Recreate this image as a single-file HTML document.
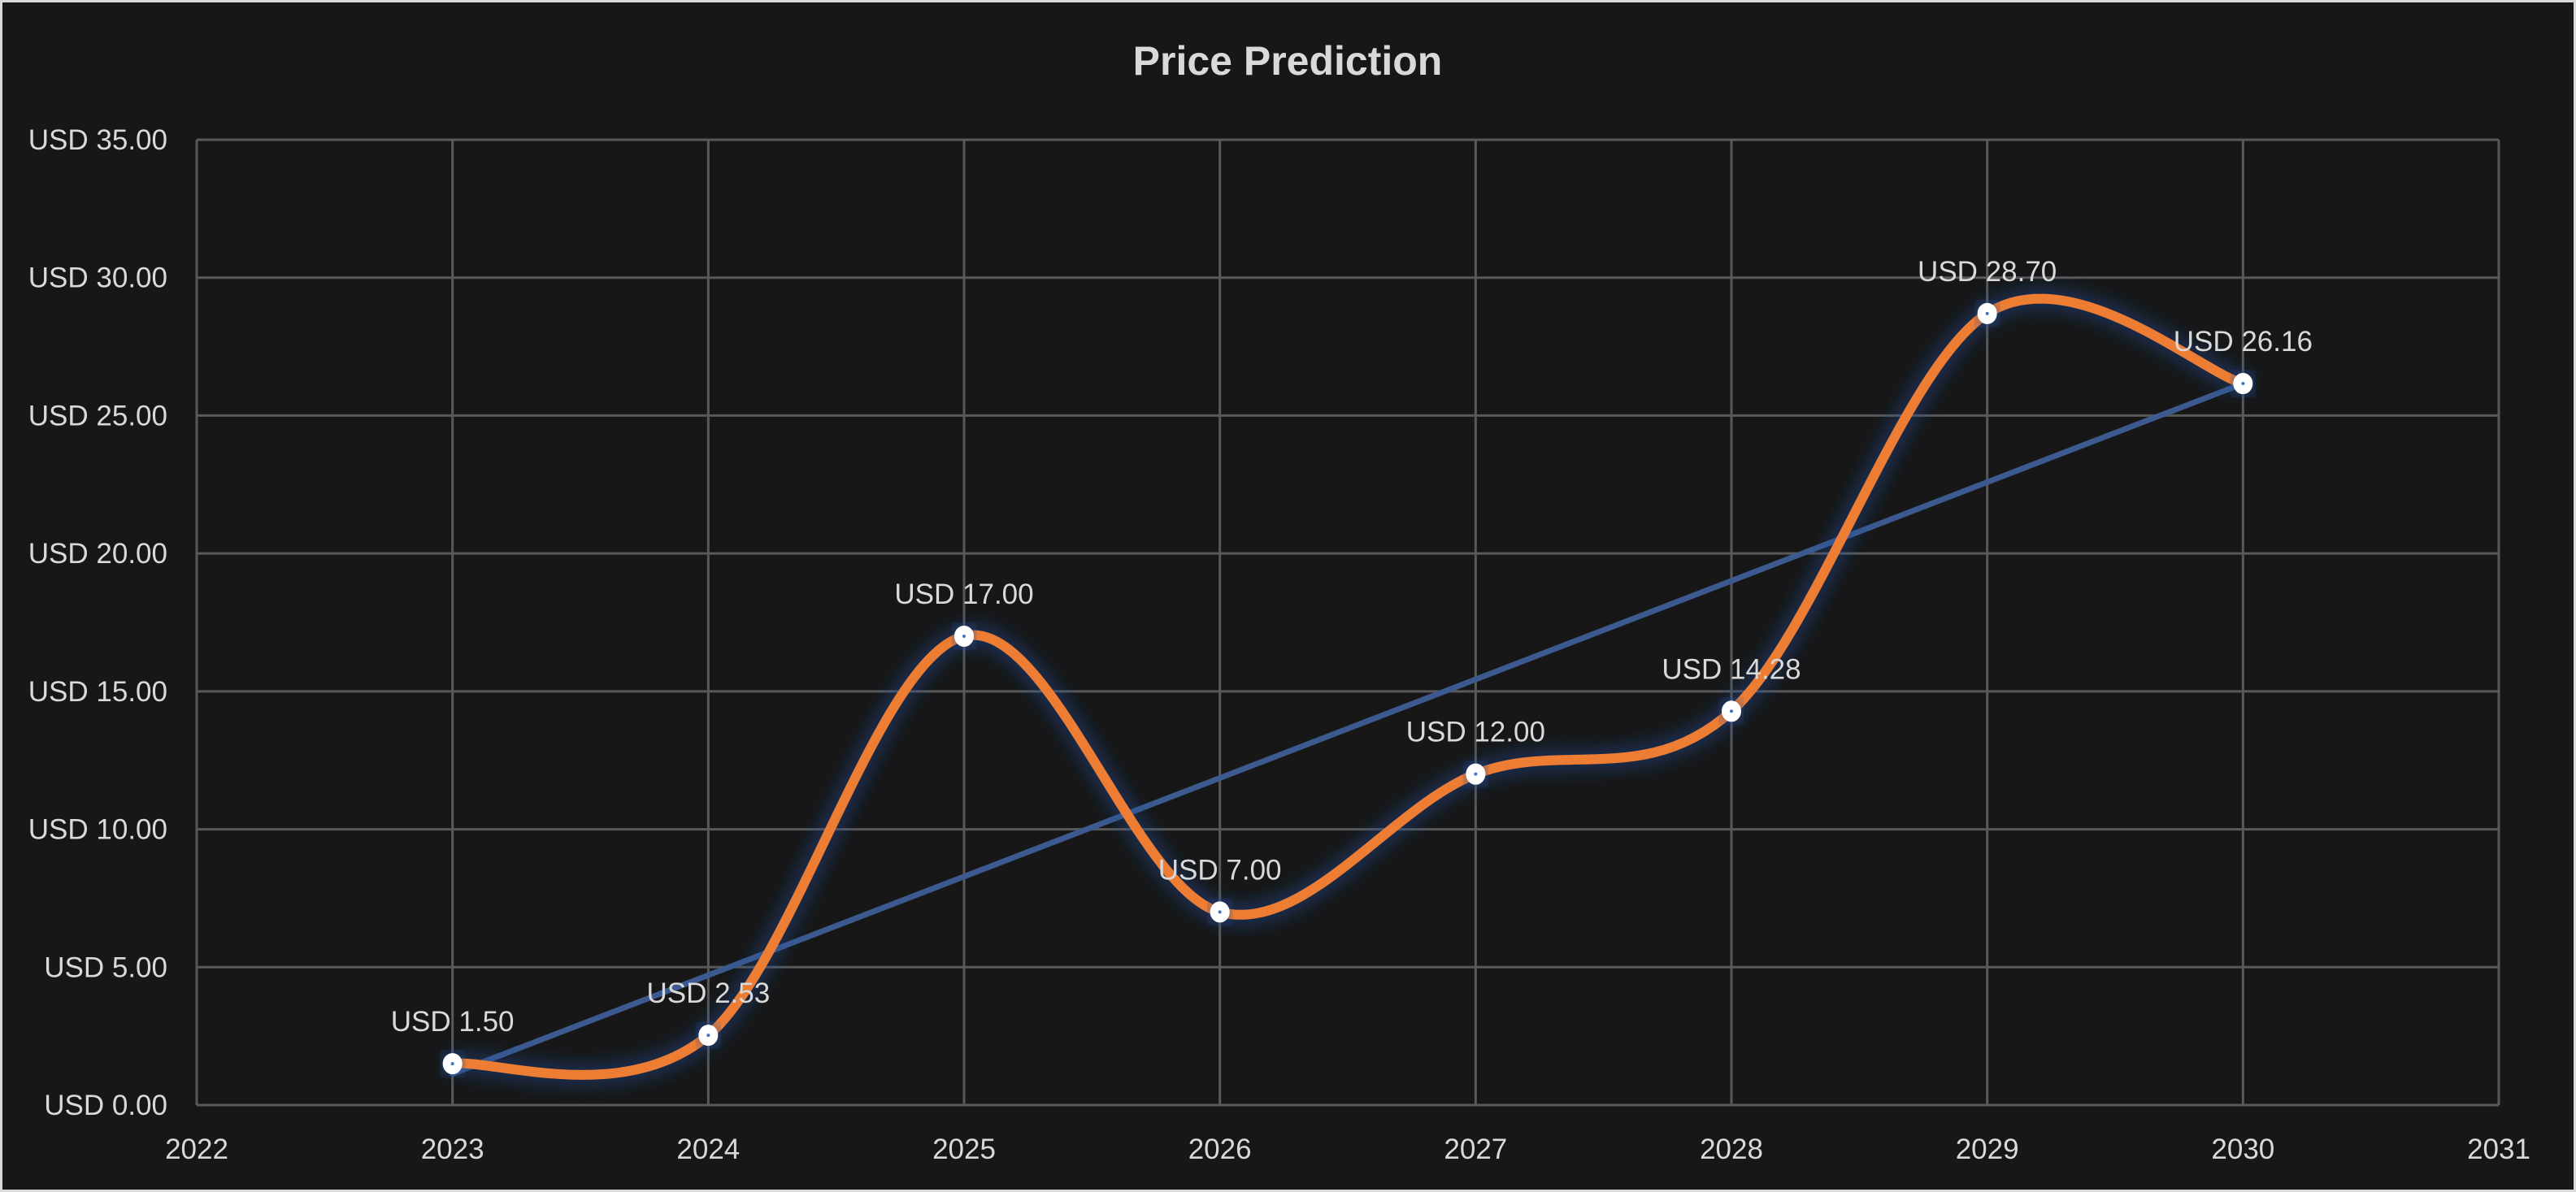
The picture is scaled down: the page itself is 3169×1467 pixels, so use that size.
<!DOCTYPE html>
<html><head><meta charset="utf-8">
<style>
html,body{margin:0;padding:0;background:#171717;}
svg{display:block;}
text{font-family:"Liberation Sans",sans-serif;}
</style></head>
<body>
<svg id="chart" width="3169" height="1467" viewBox="0 0 3169 1467" xmlns="http://www.w3.org/2000/svg">
<defs>
<filter id="glow" x="-20%" y="-20%" width="140%" height="140%">
<feGaussianBlur in="SourceAlpha" stdDeviation="13" result="b"/>
<feFlood flood-color="#1f4fa0" flood-opacity="1"/>
<feComposite in2="b" operator="in" result="g"/>
<feMerge><feMergeNode in="g"/><feMergeNode in="SourceGraphic"/></feMerge>
</filter>
</defs>
<rect x="1.5" y="1.5" width="3166" height="1464" fill="#171717" stroke="#d9d9d9" stroke-width="3"/>
<text x="1584" y="92" text-anchor="middle" font-size="50" font-weight="bold" fill="#d9d9d9">Price Prediction</text>
<g id="grid"></g>
<g id="axes"></g>
<g id="series"></g>
</svg>
<script>
const xTicks = [2022,2023,2024,2025,2026,2027,2028,2029,2030,2031];
const yTicks = [0,5,10,15,20,25,30,35];
const years = [2023,2024,2025,2026,2027,2028,2029,2030];
const prices = [1.50,2.53,17.00,7.00,12.00,14.28,28.70,26.16];

const NS="http://www.w3.org/2000/svg";
const L=242,R=3074,T=172,B=1360;
const xMin=2022,xMax=2031,yMin=0,yMax=35;
const X=v=>L+(v-xMin)/(xMax-xMin)*(R-L);
const Y=v=>B-(v-yMin)/(yMax-yMin)*(B-T);
function el(tag,attrs,parent){const e=document.createElementNS(NS,tag);for(const k in attrs)e.setAttribute(k,attrs[k]);parent.appendChild(e);return e;}
const grid=document.getElementById('grid'),axes=document.getElementById('axes'),series=document.getElementById('series');
const fmt=v=>'USD '+v.toFixed(2);

yTicks.forEach(v=>{
  const ln=el('line',{x1:L,x2:R,y1:Y(v),y2:Y(v),stroke:'#595959','stroke-width':3},grid);
  
  
  const t=el('text',{x:206,y:Y(v)+12,'text-anchor':'end','font-size':35,fill:'#d9d9d9'},axes);
  t.textContent=fmt(v);
  
  
});
xTicks.forEach(v=>{
  const ln=el('line',{x1:X(v),x2:X(v),y1:T,y2:B,stroke:'#595959','stroke-width':3},grid);
  
  
  const t=el('text',{x:X(v),y:1426,'text-anchor':'middle','font-size':35,fill:'#d9d9d9'},axes);
  t.textContent=String(v);
  
  
});

const n=years.length;
const mx=years.reduce((a,b)=>a+b,0)/n, my=prices.reduce((a,b)=>a+b,0)/n;
let sxy=0,sxx=0;years.forEach((x,i)=>{sxy+=(x-mx)*(prices[i]-my);sxx+=(x-mx)*(x-mx);});
const slope=sxy/sxx, icpt=my-slope*mx;
const x0=years[0],x1=years[n-1];
const tr=el('line',{x1:X(x0),y1:Y(icpt+slope*x0),x2:X(x1),y2:Y(icpt+slope*x1),stroke:'#3c5a8f','stroke-width':7,'stroke-linecap':'round'},series);



const pts=years.map((y,i)=>[X(y),Y(prices[i])]);
let d=`M${pts[0][0]},${pts[0][1]}`;
const k=1/6;
for(let i=0;i<pts.length-1;i++){
  const p0=pts[Math.max(0,i-1)],p1=pts[i],p2=pts[i+1],p3=pts[Math.min(pts.length-1,i+2)];
  const c1=[p1[0]+(p2[0]-p0[0])*k,p1[1]+(p2[1]-p0[1])*k];
  const c2=[p2[0]-(p3[0]-p1[0])*k,p2[1]-(p3[1]-p1[1])*k];
  d+=` C${c1[0]},${c1[1]} ${c2[0]},${c2[1]} ${p2[0]},${p2[1]}`;
}
const path=el('path',{d:d,fill:'none',stroke:'#ed7d31','stroke-width':12,'stroke-linecap':'round',filter:'url(#glow)'},series);



pts.forEach((p,i)=>{
  const c=el('ellipse',{cx:p[0],cy:p[1],rx:11,ry:12,fill:'#ffffff',stroke:'#ffffff','stroke-width':2,filter:'url(#glow)'},series);
  
  
  el('circle',{cx:p[0],cy:p[1],r:2,fill:'#4472c4'},series);
  const t=el('text',{x:p[0],y:p[1]-40,'text-anchor':'middle','font-size':35,fill:'#d9d9d9'},series);
  t.textContent=fmt(prices[i]);
  
  
});
</script>
</body></html>
